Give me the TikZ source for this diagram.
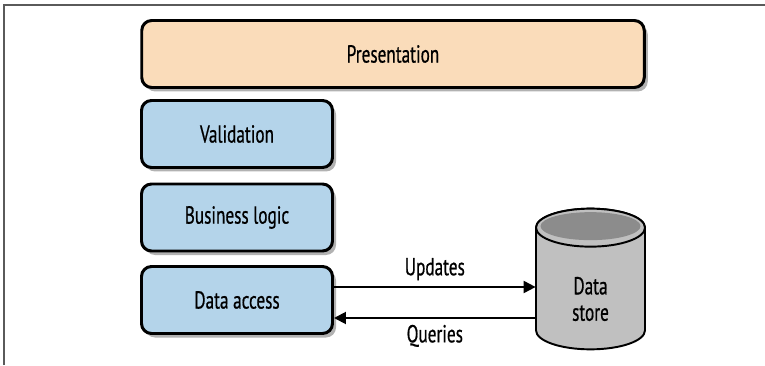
\documentclass[tikz,border=0pt]{standalone}
\usepackage{fontspec}
\setmainfont[FakeStretch=0.7, FakeBold=0.6]{PT Sans}
\usetikzlibrary{arrows.meta,shadows}

\definecolor{peach}{RGB}{250,220,186}
\definecolor{layerblue}{RGB}{180,212,234}
\definecolor{storegray}{RGB}{192,192,192}
\definecolor{storedark}{RGB}{140,140,140}
\definecolor{framegray}{RGB}{90,90,90}

\tikzset{
  layer/.style={draw, line width=1.7pt, rounded corners=0.2cm, minimum height=1.34cm,
    drop shadow={shadow xshift=0.07cm, shadow yshift=-0.08cm, fill=black, opacity=0.3}},
  link/.style={line width=1.1pt, -{Triangle[length=0.24cm, width=0.24cm]}},
}

\begin{document}
\begin{tikzpicture}[font=\fontsize{14}{15}\selectfont]
    \useasboundingbox (0,0) rectangle (15.3,7.3);
    % Frame
    \draw[framegray, line width=0.8pt] (0.08,0) -- (0.08,7.2) -- (15.3,7.2);

    % Layers
    \node[layer, fill=peach, minimum width=10.05cm] (present) at (7.86,6.22) {Presentation};
    \node[layer, fill=layerblue, minimum width=3.82cm] (valid) at (4.74,4.62) {Validation};
    \node[layer, fill=layerblue, minimum width=3.82cm] (logic) at (4.74,2.95) {Business logic};
    \node[layer, fill=layerblue, minimum width=3.82cm] (access) at (4.74,1.30) {Data access};

    % Data store cylinder
    \path node[minimum width=2.18cm, minimum height=2.8cm] (store) at (11.81,1.72) {};
    \coordinate (topc) at ([yshift=-0.38cm]store.north);
    \coordinate (botc) at ([yshift=0.38cm]store.south);
    \draw[line width=1.1pt, fill=storegray] ([xshift=-1.09cm]topc) -- ([xshift=-1.09cm]botc)
        arc[start angle=180, end angle=360, x radius=1.09cm, y radius=0.38cm]
        -- ([xshift=1.09cm]topc)
        arc[start angle=0, end angle=180, x radius=1.09cm, y radius=0.38cm] -- cycle;
    \draw[line width=1.1pt, fill=storegray] (topc) ellipse[x radius=1.09cm, y radius=0.38cm];
    \fill[storedark] ([yshift=0.03cm]topc) ellipse[x radius=1.0cm, y radius=0.28cm];
    \node[align=center] (storetext) at ([yshift=-0.40cm]store.center) {Data\\store};

    % Updates and queries
    \draw[link] ([yshift=0.26cm]access.east) -- ([yshift=0.26cm]access.east -| store.west)
        node[midway, above=0pt] {Updates};
    \draw[link] ([yshift=-0.36cm]access.east -| store.west) -- ([yshift=-0.36cm]access.east)
        node[midway, below=0pt] {Queries};
\end{tikzpicture}
\end{document}
